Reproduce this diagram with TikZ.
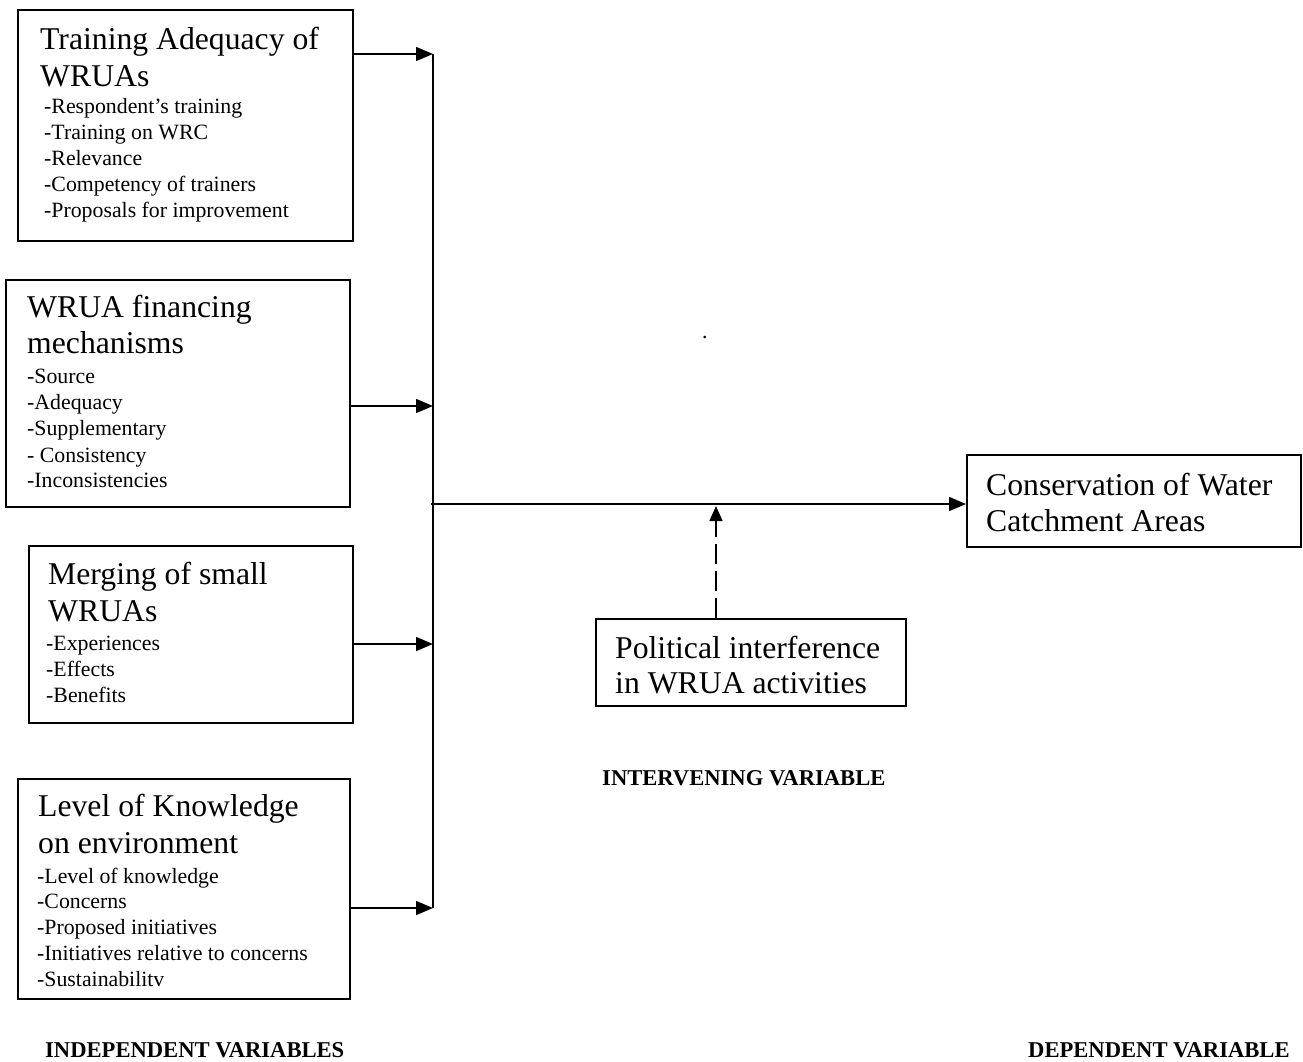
\documentclass[tikz,border=0pt]{standalone}
\usepackage{fontspec}
\setmainfont{Liberation Serif}
\usetikzlibrary{arrows.meta}
\begin{document}
\begin{tikzpicture}[x=1pt,y=-1pt,
  box/.style={draw, line width=1.8pt, minimum width=#1, inner sep=0pt, anchor=north west},
  ttl/.style={anchor=base west, inner sep=0pt, font=\fontsize{31.7}{37}\selectfont},
  itm/.style={anchor=base west, inner sep=0pt, font=\fontsize{21.8}{26}\selectfont},
  lbl/.style={anchor=base west, inner sep=0pt, font=\fontsize{22.6}{26}\selectfont\bfseries},
  conn/.style={line width=1.6pt},
  arr/.style={line width=1.6pt, -{Triangle[length=17pt,width=14pt]}},
  darr/.style={line width=1.6pt, dash pattern=on 20pt off 7pt, -{Triangle[length=15pt,width=13pt]}}
]
\useasboundingbox (0,0) rectangle (1303,1061);

% Box 1
\node[box=335, minimum height=231] (b1) at (17,9) {};
\node[ttl] (b1t1) at (40,49) {Training Adequacy of};
\node[ttl] (b1t2) at (40,86) {WRUAs};
\foreach \yy/\tx [count=\k] in {113/-Respondent’s training, 139/-Training on WRC, 165/-Relevance, 191/-Competency of trainers, 217/-Proposals for improvement}
  \node[itm, name=b1i\k] at (44,\yy) {\tx};

% Box 2
\node[box=344, minimum height=227] (b2) at (5,279) {};
\node[ttl] (b2t1) at (27,317) {WRUA financing};
\node[ttl] (b2t2) at (27,353) {mechanisms};
\foreach \yy/\tx [count=\k] in {383/-Source, 409/-Adequacy, 435/-Supplementary, 462/- Consistency, 487/-Inconsistencies}
  \node[itm, name=b2i\k] at (27,\yy) {\tx};

% Box 3
\node[box=324, minimum height=177] (b3) at (28,545) {};
\node[ttl] (b3t1) at (48,584) {Merging of small};
\node[ttl] (b3t2) at (48,621) {WRUAs};
\foreach \yy/\tx [count=\k] in {650/-Experiences, 676/-Effects, 702/-Benefits}
  \node[itm, name=b3i\k] at (46,\yy) {\tx};

% Box 4
\node[box=332, minimum height=220] (b4) at (17,778) {};
\node[ttl] (b4t1) at (38,816) {Level of Knowledge};
\node[ttl] (b4t2) at (38,853) {on environment};
\foreach \yy/\tx [count=\k] in {883/-Level of knowledge, 908/-Concerns, 934/-Proposed initiatives, 960/-Initiatives relative to concerns, 986/-Sustainabilitv}
  \node[itm, name=b4i\k] at (37,\yy) {\tx};

% Political interference box
\node[box=310, minimum height=87] (pol) at (595,618) {};
\node[ttl] (polt1) at (615,658) {Political interference};
\node[ttl] (polt2) at (615,693) {in WRUA activities};

% Conservation box
\node[box=334, minimum height=92] (cons) at (966,454) {};
\node[ttl] (const1) at (986,495) {Conservation of Water};
\node[ttl] (const2) at (986,531) {Catchment Areas};

% stray dot
\node[itm] (dot) at (702,338) {.};

% labels
\node[lbl] (lind) at (45,1057) {INDEPENDENT VARIABLES};
\node[lbl] (lint) at (602,785) {INTERVENING VARIABLE};
\node[lbl] (ldep) at (1028,1057) {DEPENDENT VARIABLE};

% connectors
\coordinate (v1) at (433,54);
\coordinate (v2) at (433,406);
\coordinate (v3) at (433,644);
\coordinate (v4) at (433,908);
\coordinate (h0) at (431,504);
\coordinate (d1) at (716,506);

\draw[conn] (v1) -- (v4);
\draw[arr] (b1.east |- v1) -- (v1);
\draw[arr] (b2.east |- v2) -- (v2);
\draw[arr] (b3.east |- v3) -- (v3);
\draw[arr] (b4.east |- v4) -- (v4);
\draw[arr] (h0) -- (cons.west |- h0);
\draw[darr] (pol.north -| d1) -- (d1);
\end{tikzpicture}
\end{document}
